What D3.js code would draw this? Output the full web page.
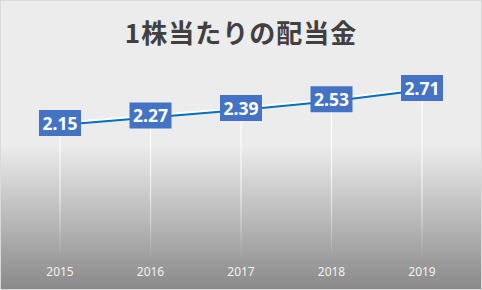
<!DOCTYPE html>
<html>
<head>
<meta charset="utf-8">
<script src="https://cdn.jsdelivr.net/npm/d3@7"></script>
<style>
  body { margin: 0; background: #fff; }
  svg { display: block; }
</style>
</head>
<body>
<svg id="chart" width="482" height="290"></svg>
<script>
// data
let years = ["2015", "2016", "2017", "2018", "2019"];
let dividends = [2.15, 2.27, 2.39, 2.53, 2.71];
let title = "1株当たりの配当金";

let svg = d3.select("#chart");
let W = 482, H = 290;

// background gradient (flat on top, gray towards the bottom)
let defs = svg.append("defs");
let grad = defs.append("linearGradient")
    .attr("id", "bg")
    .attr("x1", 0).attr("y1", 0).attr("x2", 0).attr("y2", 1);
grad.append("stop").attr("offset", "0%").attr("stop-color", "#ececec");
grad.append("stop").attr("offset", "50%").attr("stop-color", "#ececec");
grad.append("stop").attr("offset", "100%").attr("stop-color", "#898989");

svg.append("rect")
    .attr("x", 0.5).attr("y", 0.5)
    .attr("width", W - 1).attr("height", H - 1)
    .attr("fill", "url(#bg)")
    .attr("stroke", "#d9d9d9");

// title
svg.append("text")
    .attr("x", 241).attr("y", 43)
    .attr("text-anchor", "middle")
    .attr("font-family", "'Noto Sans CJK JP', sans-serif")
    .attr("font-weight", "bold")
    .attr("font-size", 26)
    .attr("letter-spacing", 1)
    .attr("fill", "#404040")
    .text(title);

// scales
let x = d3.scalePoint()
    .domain(years)
    .range([60, 422]);

let y = d3.scaleLinear()
    .domain([2.15, 2.71])
    .range([125, 90]);

// drop lines
let dropGrad = defs.append("linearGradient")
    .attr("id", "drop")
    .attr("gradientUnits", "userSpaceOnUse")
    .attr("x1", 0).attr("y1", 90).attr("x2", 0).attr("y2", 258);
dropGrad.append("stop").attr("offset", "0%").attr("stop-color", "#ffffff").attr("stop-opacity", 1);
dropGrad.append("stop").attr("offset", "60%").attr("stop-color", "#ffffff").attr("stop-opacity", 0.7);
dropGrad.append("stop").attr("offset", "100%").attr("stop-color", "#ffffff").attr("stop-opacity", 0);

svg.selectAll("line.drop")
    .data(dividends).enter()
    .append("line")
    .attr("class", "drop")
    .attr("x1", function (d, i) { return x(years[i]); })
    .attr("x2", function (d, i) { return x(years[i]); })
    .attr("y1", function (d) { return y(d); })
    .attr("y2", 258)
    .attr("stroke", "url(#drop)")
    .attr("stroke-width", 1.2);

// line with white glow
let line = d3.line()
    .x(function (d, i) { return x(years[i]); })
    .y(function (d) { return y(d); });

svg.append("path")
    .attr("d", line(dividends))
    .attr("fill", "none")
    .attr("stroke", "#ffffff")
    .attr("stroke-width", 3)
    .attr("transform", "translate(0,-1.5)");

svg.append("path")
    .attr("d", line(dividends))
    .attr("fill", "none")
    .attr("stroke", "#0070c0")
    .attr("stroke-width", 2);

// data labels
let labels = svg.selectAll("g.label")
    .data(dividends).enter()
    .append("g")
    .attr("class", "label")
    .attr("transform", function (d, i) { return "translate(" + x(years[i]) + "," + (y(d) - 2) + ")"; });

labels.append("rect")
    .attr("x", -21).attr("y", -13)
    .attr("width", 42).attr("height", 26)
    .attr("fill", "#4472c4");

labels.append("text")
    .attr("text-anchor", "middle")
    .attr("y", 6.5)
    .attr("font-family", "'Noto Sans', 'DejaVu Sans', sans-serif")
    .attr("font-weight", "bold")
    .attr("font-size", 17.5)
    .attr("fill", "#ffffff")
    .text(function (d) { return d3.format(".2f")(d); });

// x axis labels
svg.selectAll("text.year")
    .data(years).enter()
    .append("text")
    .attr("class", "year")
    .attr("x", function (d) { return x(d); })
    .attr("y", 276)
    .attr("text-anchor", "middle")
    .attr("font-family", "'Noto Sans', sans-serif")
    .attr("font-size", 12)
    .attr("fill", "#f2f2f2")
    .text(function (d) { return d; });
</script>
</body>
</html>
